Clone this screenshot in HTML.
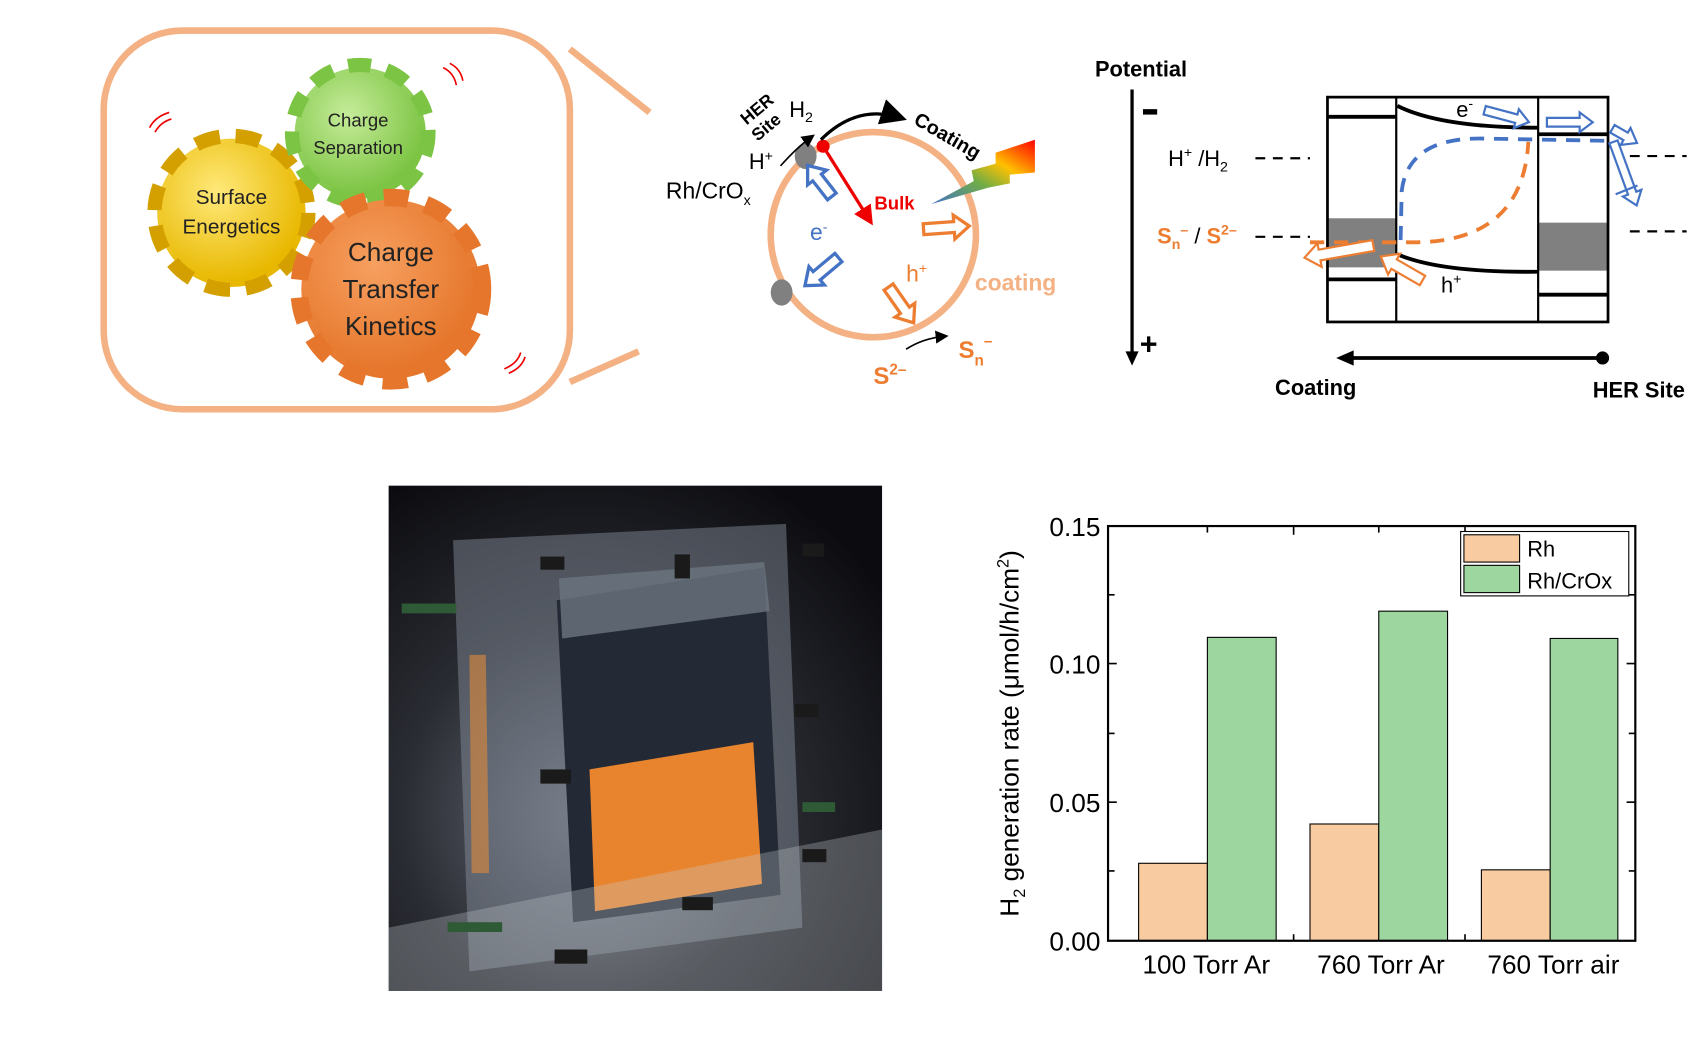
<!DOCTYPE html>
<html><head><meta charset="utf-8"><style>
html,body{margin:0;padding:0;background:#fff;}
svg{display:block;}
text{font-family:"Liberation Sans",sans-serif;}
</style></head><body>
<svg width="1703" height="1051" viewBox="0 0 1560 963" preserveAspectRatio="none" xmlns="http://www.w3.org/2000/svg">
<defs>
<radialGradient id="gy" cx="40%" cy="35%" r="65%"><stop offset="0" stop-color="#ffe97a"/><stop offset="1" stop-color="#e8b800"/></radialGradient>
<radialGradient id="gg" cx="40%" cy="35%" r="65%"><stop offset="0" stop-color="#c6ec9a"/><stop offset="1" stop-color="#7cc443"/></radialGradient>
<radialGradient id="go" cx="40%" cy="35%" r="65%"><stop offset="0" stop-color="#f7a060"/><stop offset="1" stop-color="#e5762b"/></radialGradient>
<linearGradient id="rb" x1="0" y1="1" x2="1" y2="0"><stop offset="0" stop-color="#4472c4"/><stop offset="0.4" stop-color="#70ad47"/><stop offset="0.65" stop-color="#ffc000"/><stop offset="1" stop-color="#ff0000"/></linearGradient>
<radialGradient id="ph" cx="40%" cy="65%" r="75%"><stop offset="0" stop-color="#6a6f7a"/><stop offset="0.5" stop-color="#2a2c33"/><stop offset="1" stop-color="#0c0c10"/></radialGradient>
<marker id="ab" markerWidth="8" markerHeight="8" refX="6" refY="4" orient="auto"><path d="M0,0 L8,4 L0,8 z" fill="#000"/></marker>
<marker id="ar" markerWidth="6" markerHeight="6" refX="5" refY="3" orient="auto"><path d="M0,0 L6,3 L0,6 z" fill="#e00"/></marker>
</defs>

<rect x="95" y="28" width="427" height="347" rx="72" fill="none" stroke="#f4b183" stroke-width="6"/>
<line x1="522" y1="45" x2="595" y2="103" stroke="#f4b183" stroke-width="6"/>
<line x1="522" y1="350" x2="585" y2="322" stroke="#f4b183" stroke-width="6"/>

<g>
<circle cx="212" cy="195" r="68" fill="url(#gy)" stroke="#d4a000" stroke-dasharray="22 14" stroke-width="18"/>
<circle cx="212" cy="195" r="64" fill="url(#gy)"/>
<circle cx="330" cy="122" r="60" fill="url(#gg)" stroke="#7cc443" stroke-dasharray="20 14" stroke-width="18"/>
<circle cx="330" cy="122" r="56" fill="url(#gg)"/>
<circle cx="358" cy="265" r="82" fill="url(#go)" stroke="#e5762b" stroke-dasharray="22 16" stroke-width="20"/>
<circle cx="358" cy="265" r="76" fill="url(#go)"/>
</g>
<text x="212" y="187" font-size="19" text-anchor="middle" fill="#222">Surface</text>
<text x="212" y="214" font-size="19" text-anchor="middle" fill="#222">Energetics</text>
<text x="328" y="116" font-size="17" text-anchor="middle" fill="#222">Charge</text>
<text x="328" y="141" font-size="17" text-anchor="middle" fill="#222">Separation</text>
<text x="358" y="239" font-size="24" text-anchor="middle" fill="#222">Charge</text>
<text x="358" y="273" font-size="24" text-anchor="middle" fill="#222">Transfer</text>
<text x="358" y="307" font-size="24" text-anchor="middle" fill="#222">Kinetics</text>
<g stroke="#e00" stroke-width="1.5" fill="none">
<path d="M137,117 q5,-10 18,-14"/><path d="M142,121 q5,-9 15,-12"/>
<path d="M406,62 q10,5 12,16"/><path d="M412,58 q10,5 12,16"/>
<path d="M462,338 q12,-5 15,-15"/><path d="M466,342 q12,-5 15,-15"/>
</g>

<circle cx="800" cy="215" r="94" fill="none" stroke="#f4b183" stroke-width="6"/>
<ellipse cx="738" cy="143" rx="10" ry="12" fill="#808080"/>
<ellipse cx="716" cy="268" rx="10" ry="12" fill="#808080"/>
<circle cx="754" cy="134" r="6" fill="#e00"/>
<line x1="754" y1="134" x2="798" y2="204" stroke="#e00" stroke-width="3" marker-end="url(#ar)"/>
<path d="M752,128 Q785,95 825,108" stroke="#000" stroke-width="3" fill="none" marker-end="url(#ab)"/>
<path d="M715,152 Q730,135 744,125" stroke="#000" stroke-width="1.5" fill="none" marker-end="url(#ab)"/>
<path d="M830,320 Q845,310 866,308" stroke="#000" stroke-width="1.5" fill="none" marker-end="url(#ab)"/>
<text x="801" y="192" font-size="17" font-weight="bold" fill="#e00">Bulk</text>
<text x="836" y="113" font-size="18" font-weight="bold" fill="#000" transform="rotate(30 836 113)">Coating</text>
<text x="684" y="115" font-size="16" font-weight="bold" transform="rotate(-40 684 115)">HER</text>
<text x="694" y="130" font-size="16" font-weight="bold" transform="rotate(-40 694 130)">Site</text>
<text x="723" y="107" font-size="20">H<tspan font-size="13" dy="5">2</tspan></text>
<text x="686" y="155" font-size="20">H<tspan font-size="13" dy="-8">+</tspan></text>
<text x="610" y="182" font-size="21">Rh/CrO<tspan font-size="13" dy="6">x</tspan></text>
<text x="742" y="220" font-size="21" fill="#4472c4">e<tspan font-size="13" dy="-8">-</tspan></text>
<text x="830" y="258" font-size="21" fill="#ed7d31">h<tspan font-size="13" dy="-8">+</tspan></text>
<text x="893" y="266" font-size="21" font-weight="bold" fill="#f4b183">coating</text>
<text x="800" y="352" font-size="22" font-weight="bold" fill="#ed7d31">S<tspan font-size="14" dy="-9">2–</tspan></text>
<text x="878" y="328" font-size="22" font-weight="bold" fill="#ed7d31">S<tspan font-size="14" dy="7">n</tspan><tspan font-size="14" dy="-18">–</tspan></text>
<path d="M853,187 L892,166 L890,156 L912,150 L912,140 L948,128 L948,158 L925,160 L925,168 L905,172 Z" fill="url(#rb)"/>
<g fill="#fff" stroke-width="3">
<path transform="translate(762,180) rotate(-128)" d="M0,-5 L22,-5 L22,-11 L36,0 L22,11 L22,5 L0,5 Z" stroke="#4472c4"/>
<path transform="translate(768,236) rotate(140)" d="M0,-5 L26,-5 L26,-11 L40,0 L26,11 L26,5 L0,5 Z" stroke="#4472c4"/>
<path transform="translate(846,210) rotate(-4)" d="M0,-5 L28,-5 L28,-11 L42,0 L28,11 L28,5 L0,5 Z" stroke="#ed7d31"/>
<path transform="translate(814,263) rotate(55)" d="M0,-5 L26,-5 L26,-11 L40,0 L26,11 L26,5 L0,5 Z" stroke="#ed7d31"/>
</g>

<text x="1003" y="70" font-size="20" font-weight="bold">Potential</text>
<line x1="1037" y1="82" x2="1037" y2="325" stroke="#000" stroke-width="3"/>
<path d="M1031,322 L1043,322 L1037,335 Z" fill="#000"/>
<rect x="1047" y="100" width="13" height="5" fill="#000"/>
<text x="1044" y="325" font-size="28" font-weight="bold">+</text>
<text x="1070" y="152" font-size="20">H<tspan font-size="13" dy="-8">+</tspan><tspan dy="8"> /H</tspan><tspan font-size="13" dy="5">2</tspan></text>
<text x="1060" y="223" font-size="20" font-weight="bold" fill="#ed7d31">S<tspan font-size="13" dy="5">n</tspan><tspan font-size="13" dy="-13">–</tspan><tspan dy="8" fill="#000" font-weight="normal"> / </tspan><tspan>S</tspan><tspan font-size="13" dy="-8">2–</tspan></text>
<g stroke="#000" stroke-width="2" stroke-dasharray="9 7">
<line x1="1150" y1="145" x2="1200" y2="145"/><line x1="1150" y1="217" x2="1200" y2="217"/>
<line x1="1493" y1="143" x2="1545" y2="143"/><line x1="1493" y1="212" x2="1545" y2="212"/>
</g>
<rect x="1216" y="200" width="63" height="45" fill="#808080"/>
<rect x="1409" y="204" width="64" height="44" fill="#808080"/>
<rect x="1216" y="89" width="257" height="206" fill="none" stroke="#000" stroke-width="2.5"/>
<line x1="1279" y1="89" x2="1279" y2="295" stroke="#000" stroke-width="2"/>
<line x1="1409" y1="89" x2="1409" y2="295" stroke="#000" stroke-width="2"/>
<g stroke="#000" stroke-width="3.5" fill="none">
<line x1="1216" y1="107" x2="1279" y2="107"/><line x1="1216" y1="256" x2="1279" y2="256"/>
<line x1="1409" y1="123" x2="1473" y2="123"/><line x1="1409" y1="270" x2="1473" y2="270"/>
<path d="M1280,97 Q1320,117 1409,117"/><path d="M1280,233 Q1320,250 1409,249"/>
</g>
<path d="M1283,220 L1284,175 Q1290,125 1360,127 L1472,129" stroke="#4472c4" stroke-width="3.5" fill="none" stroke-dasharray="13 9"/>
<path d="M1200,222 L1290,222 Q1395,224 1400,130" stroke="#ed7d31" stroke-width="3.5" fill="none" stroke-dasharray="13 9"/>
<text x="1334" y="107" font-size="20">e<tspan font-size="13" dy="-8">-</tspan></text>
<text x="1320" y="268" font-size="20">h<tspan font-size="13" dy="-8">+</tspan></text>
<g fill="#fff" stroke-width="2">
<path transform="translate(1360,101) rotate(15)" d="M0,-4 L30,-4 L30,-9 L42,0 L30,9 L30,4 L0,4 Z" stroke="#4472c4"/>
<path transform="translate(1417,112)" d="M0,-4 L30,-4 L30,-9 L42,0 L30,9 L30,4 L0,4 Z" stroke="#4472c4"/>
<path transform="translate(1477,118) rotate(30)" d="M0,-4 L14,-4 L14,-9 L26,0 L14,9 L14,4 L0,4 Z" stroke="#4472c4"/>
<path transform="translate(1478,130) rotate(70)" d="M0,-4 L50,-4 L50,-9 L62,0 L50,9 L50,4 L0,4 Z" stroke="#4472c4"/>
<path transform="translate(1258,225) rotate(170)" d="M0,-5 L50,-5 L50,-11 L64,0 L50,11 L50,5 L0,5 Z" stroke="#ed7d31"/>
<path transform="translate(1303,257) rotate(-150)" d="M0,-5 L30,-5 L30,-11 L44,0 L30,11 L30,5 L0,5 Z" stroke="#ed7d31"/>
</g>
<line x1="1480" y1="178" x2="1500" y2="170" stroke="#4472c4" stroke-width="2"/>
<line x1="1232" y1="328" x2="1468" y2="328" stroke="#000" stroke-width="3.5"/>
<path d="M1224,328 L1240,321 L1240,335 Z" fill="#000"/>
<circle cx="1468" cy="328" r="6" fill="#000"/>
<text x="1168" y="362" font-size="20" font-weight="bold">Coating</text>
<text x="1459" y="364" font-size="20" font-weight="bold">HER Site</text>

<rect x="356" y="445" width="452" height="463" fill="url(#ph)"/>
<polygon points="415,495 720,480 735,850 430,890" fill="#8a93a0" opacity="0.45"/>
<polygon points="510,550 700,520 715,820 525,845" fill="#232a36"/>
<polygon points="512,530 700,515 705,560 515,585" fill="#6c7580" opacity="0.8"/>
<polygon points="540,705 690,680 698,810 545,835" fill="#e9842e"/>
<polygon points="430,600 445,600 448,800 432,800" fill="#e08a3a" opacity="0.6"/>
<polygon points="356,850 808,760 808,908 356,908" fill="#c8ccd2" opacity="0.3"/>
<g fill="#1a1a1a"><rect x="495" y="510" width="22" height="12"/><rect x="618" y="508" width="14" height="22"/><rect x="735" y="498" width="20" height="12"/><rect x="495" y="705" width="28" height="13"/><rect x="728" y="645" width="22" height="12"/><rect x="735" y="778" width="22" height="12"/><rect x="625" y="822" width="28" height="12"/><rect x="508" y="870" width="30" height="13"/></g>
<g fill="#2f5a36"><rect x="368" y="553" width="50" height="9"/><rect x="410" y="845" width="50" height="9"/><rect x="735" y="735" width="30" height="9"/></g>

<g fill="#f8cba0" stroke="#000" stroke-width="1">
<rect x="1043" y="791" width="63" height="71"/><rect x="1200" y="755" width="63" height="107"/><rect x="1357" y="797" width="63" height="65"/>
</g>
<g fill="#9dd69f" stroke="#000" stroke-width="1">
<rect x="1106" y="584" width="63" height="278"/><rect x="1263" y="560" width="63" height="302"/><rect x="1420" y="585" width="62" height="277"/>
</g>
<rect x="1015" y="482" width="483" height="380" fill="none" stroke="#000" stroke-width="2"/>
<g stroke="#000" stroke-width="1.5">
<line x1="1015" y1="545" x2="1021" y2="545"/><line x1="1015" y1="608" x2="1023" y2="608"/><line x1="1015" y1="672" x2="1021" y2="672"/><line x1="1015" y1="735" x2="1023" y2="735"/><line x1="1015" y1="798" x2="1021" y2="798"/>
<line x1="1498" y1="545" x2="1492" y2="545"/><line x1="1498" y1="608" x2="1490" y2="608"/><line x1="1498" y1="672" x2="1492" y2="672"/><line x1="1498" y1="735" x2="1490" y2="735"/><line x1="1498" y1="798" x2="1492" y2="798"/>
<line x1="1106" y1="482" x2="1106" y2="488"/><line x1="1185" y1="482" x2="1185" y2="490"/><line x1="1263" y1="482" x2="1263" y2="488"/><line x1="1342" y1="482" x2="1342" y2="490"/>
<line x1="1185" y1="862" x2="1185" y2="856"/><line x1="1342" y1="862" x2="1342" y2="856"/>
</g>
<rect x="1338" y="487" width="154" height="59" fill="#fff" stroke="#000" stroke-width="1"/>
<rect x="1341" y="490" width="51" height="25" fill="#f8cba0" stroke="#000" stroke-width="1"/>
<rect x="1341" y="518" width="51" height="25" fill="#9dd69f" stroke="#000" stroke-width="1"/>
<text x="1399" y="510" font-size="20">Rh</text>
<text x="1399" y="539" font-size="20">Rh/CrOx</text>
<g font-size="24" text-anchor="end"><text x="1008" y="491">0.15</text><text x="1008" y="617">0.10</text><text x="1008" y="744">0.05</text><text x="1008" y="871">0.00</text></g>
<g font-size="24" text-anchor="middle"><text x="1105" y="892">100 Torr Ar</text><text x="1265" y="892">760 Torr Ar</text><text x="1423" y="892">760 Torr air</text></g>
<text transform="translate(933,672) rotate(-90)" font-size="24" text-anchor="middle">H<tspan font-size="15" dy="6">2</tspan><tspan dy="-6"> generation rate (μmol/h/cm</tspan><tspan font-size="15" dy="-9">2</tspan><tspan dy="9">)</tspan></text>
</svg>
</body></html>
